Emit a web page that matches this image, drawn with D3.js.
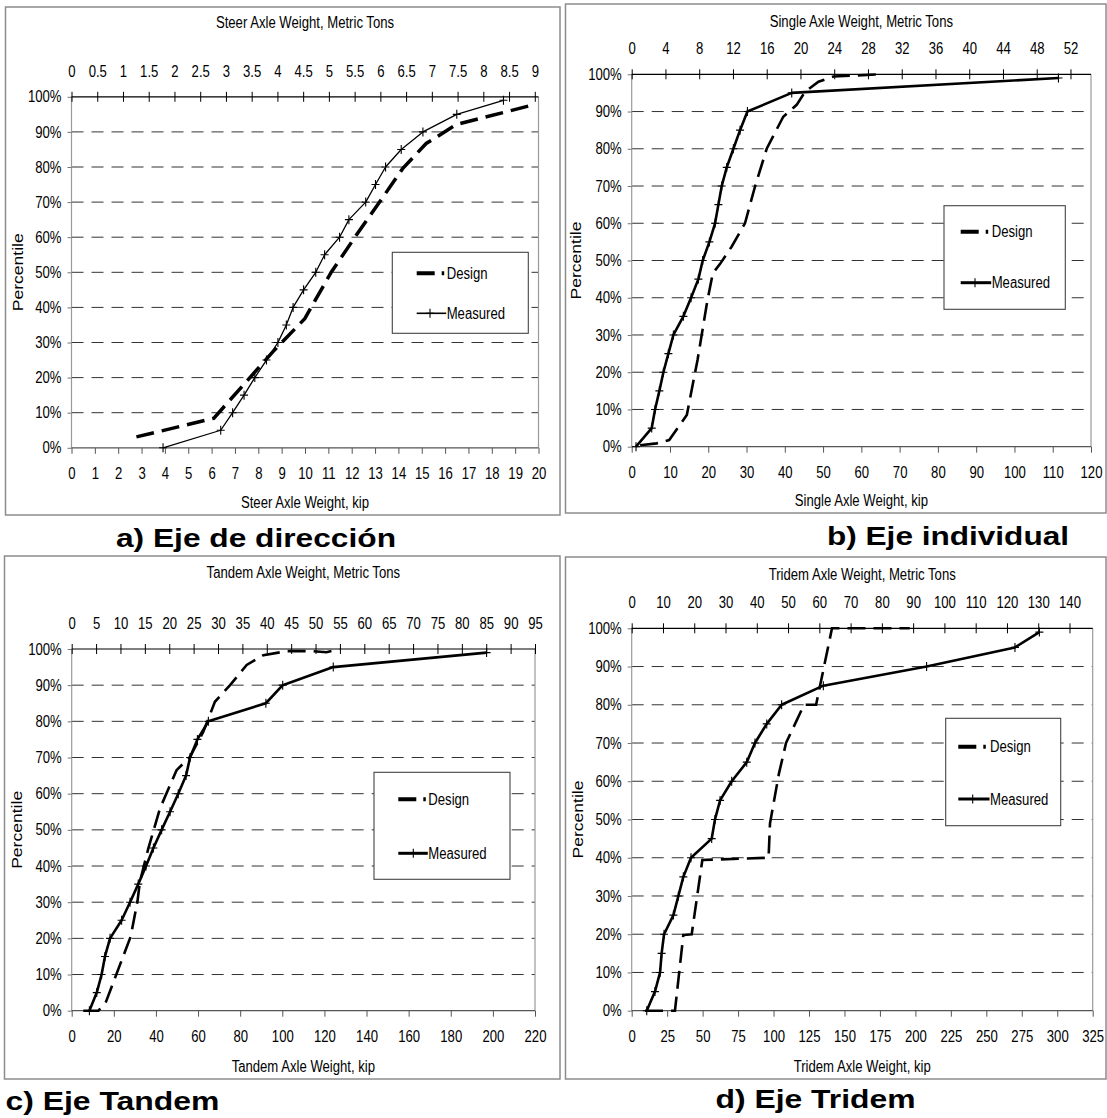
<!DOCTYPE html>
<html>
<head>
<meta charset="utf-8">
<script src="https://cdn.jsdelivr.net/npm/d3@7"></script>
<style>
  html, body { margin: 0; padding: 0; background: #fff; }
  svg { display: block; }
</style>
</head>
<body>
<svg id="chart" width="1107" height="1118"></svg>
<script>
// ---------------- DATA ----------------
const percentLabels = [0, 10, 20, 30, 40, 50, 60, 70, 80, 90, 100];

// a) Steer axle
const steerMeasuredKip = [3.92, 6.39, 6.9, 7.39, 7.85, 8.35, 8.84, 9.20, 9.49, 9.94, 10.46, 10.84, 11.48, 11.88, 12.60, 13.02, 13.45, 14.12, 15.05, 16.50, 18.50];
const steerMeasuredPct = [0, 5, 10, 15, 20, 25, 30, 35, 40, 45, 50, 55, 60, 65, 70, 75, 80, 85, 90, 95, 99];
const steerDesignKip = [2.78, 6.09, 8.63, 9.99, 11.13, 12.20, 13.20, 14.19, 15.19, 16.48, 19.83];
const steerDesignPct = [3.1, 8.4, 27.4, 36.8, 50.1, 60.6, 70.1, 79.6, 86.7, 92.1, 97.8];

// b) Single axle
const singleMeasuredKip = [1.13, 5.23, 6.10, 7.23, 8.28, 9.58, 10.89, 13.50, 15.51, 17.42, 18.55, 20.30, 21.78, 22.65, 23.52, 24.83, 26.57, 28.31, 30.23, 41.81, 111.5];
const singleMeasuredPct = [0, 5, 10, 15, 20, 25, 30, 35, 40, 45, 50, 55, 60, 65, 70, 75, 80, 85, 90, 95, 99];
const singleDesignKip = [2.2, 6.5, 9.8, 14.4, 17.2, 19.8, 21.2, 23.1, 26.1, 29.6, 32.2, 35.3, 39.6, 43.1, 45.3, 48.8, 52.7, 64.9];
const singleDesignPct = [0.4, 0.9, 1.8, 8.5, 23.3, 39.4, 46.6, 49.1, 53.7, 60.0, 69.8, 80.1, 88.6, 91.8, 95.3, 98.0, 99.4, 100];

// c) Tandem axle
const tandemMeasuredKip = [8.4, 11.9, 14.2, 15.8, 18.2, 23.7, 27.7, 31.6, 35.3, 38.8, 42.7, 46.7, 50.6, 54.3, 56.2, 59.7, 64.9, 92.2, 100.2, 124.2, 197];
const tandemMeasuredPct = [0, 5, 10, 15, 20, 25, 30, 35, 40, 45, 50, 55, 60, 65, 70, 75, 80, 85, 90, 95, 99];
const tandemDesignKip = [5.5, 12.7, 16.3, 28.0, 31.2, 32.4, 36.4, 41.9, 49.8, 56.2, 62.5, 68.0, 75.2, 83.1, 91.0, 102.1, 114.7, 121.0, 127.1];
const tandemDesignPct = [0, 0, 2.5, 20.5, 30.1, 35.7, 44.9, 55.9, 66.5, 70.2, 77.1, 85.4, 90.0, 95.6, 98.3, 99.4, 99.4, 99.1, 100];

// d) Tridem axle
const tridemMeasuredKip = [10.6, 16.4, 20.0, 21.1, 22.8, 29.4, 32.9, 36.4, 41.8, 56.4, 58.7, 62.3, 70.5, 81.1, 86.9, 95.2, 105.7, 135.1, 207.9, 270.2, 287.4];
const tridemMeasuredPct = [0, 5, 10, 15, 20, 25, 30, 35, 40, 45, 50, 55, 60, 65, 70, 75, 80, 85, 90, 95, 99];
const tridemDesignKip = [9.4, 30.5, 36.4, 42.3, 49.8, 96.5, 97.5, 103.8, 108.8, 121.5, 130.0, 141.2, 196.0];
const tridemDesignPct = [0, 0, 19.8, 20, 39.4, 40, 49, 62, 70, 80, 80, 100, 100];

// tick labels
const steerKipTicks = d3.range(0, 20.01, 1);
const steerTonTicks = d3.range(0, 9.01, 0.5);
const singleKipTicks = d3.range(0, 120.01, 10);
const singleTonTicks = d3.range(0, 52.01, 4);
const tandemKipTicks = d3.range(0, 220.01, 20);
const tandemTonTicks = d3.range(0, 95.01, 5);
const tridemKipTicks = d3.range(0, 325.01, 25);
const tridemTonTicks = d3.range(0, 140.01, 10);

const legendLabels = ["Design", "Measured"];
const KIP_PER_TON = 2.2046;

// ---------------- LAYOUT ----------------
const panels = [
  { title: "Steer Axle Weight, Metric Tons", xTitle: "Steer Axle Weight, kip", caption: "a) Eje de dirección",
    mk: steerMeasuredKip, mp: steerMeasuredPct, dk: steerDesignKip, dp: steerDesignPct,
    kipTicks: steerKipTicks, tonTicks: steerTonTicks, kipMax: 20, tonMax: 20 / KIP_PER_TON,
    box: [5.5, 7, 554.5, 508], x0: 71.5, x1: 538.5, yTop: 96.8, yBot: 447.8,
    titleY: 27.5, xTitleY: 507.8, pctX: 18,
    leg: { x: 392.3, y: 252.3, w: 136, h: 81, dY: 273.3, mY: 313.3, lx: 416.7, tx: 446.7, mx: 430 },
    cap: { x: 116, y: 546.6, len: 280 }, dW: 3.5, mW: 1.3, legMW: 1.6 },
  { title: "Single Axle Weight, Metric Tons", xTitle: "Single Axle Weight, kip", caption: "b) Eje individual",
    mk: singleMeasuredKip, mp: singleMeasuredPct, dk: singleDesignKip, dp: singleDesignPct,
    kipTicks: singleKipTicks, tonTicks: singleTonTicks, kipMax: 120, tonMax: 120 / KIP_PER_TON,
    box: [565.5, 4, 540.5, 509], x0: 631.7, x1: 1091, yTop: 74.3, yBot: 446.7,
    titleY: 26.5, xTitleY: 505.8, pctX: 576,
    leg: { x: 944, y: 205.7, w: 121.3, h: 103.6, dY: 231.7, mY: 282.7, lx: 960.7, tx: 991.7, mx: 975 },
    cap: { x: 827, y: 545, len: 242 }, dW: 2.6, mW: 2.6, legMW: 3 },
  { title: "Tandem Axle Weight, Metric Tons", xTitle: "Tandem Axle Weight, kip", caption: "c) Eje Tandem",
    mk: tandemMeasuredKip, mp: tandemMeasuredPct, dk: tandemDesignKip, dp: tandemDesignPct,
    kipTicks: tandemKipTicks, tonTicks: tandemTonTicks, kipMax: 220, tonMax: 95,
    box: [4.5, 556, 555.5, 523], x0: 71.7, x1: 535, yTop: 649, yBot: 1010.7,
    titleY: 578, xTitleY: 1071.8, pctX: 17,
    leg: { x: 374, y: 772.3, w: 136, h: 107, dY: 799.3, mY: 853.3, lx: 398.3, tx: 428.3, mx: 413.3 },
    cap: { x: 5.4, y: 1110, len: 214 }, dW: 2.6, mW: 2.6, legMW: 3 },
  { title: "Tridem Axle Weight, Metric Tons", xTitle: "Tridem Axle Weight, kip", caption: "d) Eje Tridem",
    mk: tridemMeasuredKip, mp: tridemMeasuredPct, dk: tridemDesignKip, dp: tridemDesignPct,
    kipTicks: tridemKipTicks, tonTicks: tridemTonTicks, kipMax: 325, tonMax: 325 / KIP_PER_TON,
    box: [565.5, 557, 540.5, 522], x0: 631.7, x1: 1092.7, yTop: 628.3, yBot: 1010.7,
    titleY: 579.5, xTitleY: 1071.8, pctX: 578,
    leg: { x: 945.7, y: 718.3, w: 115, h: 107.4, dY: 746.7, mY: 799, lx: 958.3, tx: 990, mx: 972.7 },
    cap: { x: 715.5, y: 1108, len: 200 }, dW: 2.6, mW: 2.6, legMW: 3 }
];

const FONT = "'Liberation Sans', Arial, sans-serif";
const svg = d3.select("#chart");

function narrow(sel, factor = 0.82) {
  sel.each(function () {
    const w = this.getComputedTextLength();
    if (w > 0) {
      this.setAttribute("textLength", (w * factor).toFixed(2));
      this.setAttribute("lengthAdjust", "spacingAndGlyphs");
    }
  });
}

const plus = "M-4,0H4M0,-4.5V4.5";

panels.forEach(p => {
  const g = svg.append("g");
  const [bx, by, bw, bh] = p.box;
  g.append("rect").attr("x", bx).attr("y", by).attr("width", bw).attr("height", bh)
    .attr("fill", "#fff").attr("stroke", "#8c8c8c").attr("stroke-width", 1.5);

  const x = d3.scaleLinear().domain([0, p.kipMax]).range([p.x0, p.x1]);
  const xt = d3.scaleLinear().domain([0, p.tonMax]).range([p.x0, p.x1]);
  const y = d3.scaleLinear().domain([0, 100]).range([p.yBot, p.yTop]);

  // gridlines
  g.append("g").selectAll("line").data(percentLabels.filter(v => v > 0 && v < 100)).join("line")
    .attr("x1", p.x0).attr("x2", p.x1).attr("y1", d => y(d)).attr("y2", d => y(d))
    .attr("stroke", "#333").attr("stroke-width", 1).attr("stroke-dasharray", "12,8");

  // side frame
  g.append("line").attr("x1", p.x0).attr("x2", p.x0).attr("y1", p.yTop).attr("y2", p.yBot)
    .attr("stroke", "#999").attr("stroke-width", 1.2);
  g.append("line").attr("x1", p.x1).attr("x2", p.x1).attr("y1", p.yTop).attr("y2", p.yBot)
    .attr("stroke", "#999").attr("stroke-width", 1.2);

  // y axis labels
  const ya = g.append("g").attr("transform", `translate(${p.x0},0)`)
    .call(d3.axisLeft(y).tickValues(percentLabels).tickFormat(d => d + "%").tickSize(4).tickPadding(6));
  ya.select(".domain").remove();
  ya.selectAll("line").attr("stroke", "#777");
  ya.selectAll("text").attr("font-family", FONT).attr("font-size", 16).attr("fill", "#000").call(narrow);

  // bottom axis (kip)
  const xa = g.append("g").attr("transform", `translate(0,${p.yBot})`)
    .call(d3.axisBottom(x).tickValues(p.kipTicks).tickFormat(d => String(d)).tickSize(6).tickSizeOuter(0).tickPadding(14));
  xa.select(".domain").remove();
  xa.selectAll("line").attr("stroke", "#555");
  xa.selectAll("text").attr("font-family", FONT).attr("font-size", 16).attr("fill", "#000").call(narrow);
  g.append("line").attr("x1", p.x0).attr("x2", p.x1).attr("y1", p.yBot).attr("y2", p.yBot)
    .attr("stroke", "#555").attr("stroke-width", 1.2);

  // top axis (metric tons)
  const ta = g.append("g").attr("transform", `translate(0,${p.yTop})`)
    .call(d3.axisTop(xt).tickValues(p.tonTicks).tickFormat(d => String(d)).tickSize(5).tickSizeOuter(0).tickPadding(15));
  ta.select(".domain").remove();
  ta.selectAll("line").attr("y1", 5).attr("y2", -5).attr("stroke", "#000");
  ta.selectAll("text").attr("font-family", FONT).attr("font-size", 16).attr("fill", "#000").call(narrow);
  g.append("line").attr("x1", p.x0).attr("x2", p.x1).attr("y1", p.yTop).attr("y2", p.yTop)
    .attr("stroke", "#000").attr("stroke-width", 1.2);

  // titles
  g.append("text").attr("x", (p.x0 + p.x1) / 2).attr("y", p.titleY).attr("text-anchor", "middle")
    .attr("font-family", FONT).attr("font-size", 16).text(p.title).call(narrow);
  g.append("text").attr("x", (p.x0 + p.x1) / 2).attr("y", p.xTitleY).attr("text-anchor", "middle")
    .attr("font-family", FONT).attr("font-size", 16).text(p.xTitle).call(narrow);
  g.append("text").attr("transform", `translate(${p.pctX + 5},${(p.yTop + p.yBot) / 2}) rotate(-90)`)
    .attr("text-anchor", "middle").attr("font-family", FONT).attr("font-size", 14.5)
    .attr("textLength", 78).attr("lengthAdjust", "spacingAndGlyphs").text("Percentile");

  // series
  const line = d3.line().x(d => x(d[0])).y(d => y(d[1]));
  const design = p.dk.map((k, i) => [k, p.dp[i]]);
  const measured = p.mk.map((k, i) => [k, p.mp[i]]);

  g.append("path").datum(design).attr("d", line).attr("fill", "none").attr("stroke", "#000")
    .attr("stroke-width", p.dW).attr("stroke-dasharray", "18,8");
  g.append("path").datum(measured).attr("d", line).attr("fill", "none").attr("stroke", "#000")
    .attr("stroke-width", p.mW).attr("stroke-linejoin", "round");
  g.append("g").selectAll("path").data(measured).join("path")
    .attr("transform", d => `translate(${x(d[0])},${y(d[1])})`).attr("d", plus)
    .attr("stroke", "#000").attr("stroke-width", 1.1).attr("fill", "none");

  // legend
  const L = p.leg;
  const lg = g.append("g");
  lg.append("rect").attr("x", L.x).attr("y", L.y).attr("width", L.w).attr("height", L.h)
    .attr("fill", "#fff").attr("stroke", "#444").attr("stroke-width", 1.1);
  lg.append("line").attr("x1", L.lx).attr("x2", L.lx + 27.5).attr("y1", L.dY).attr("y2", L.dY)
    .attr("stroke", "#000").attr("stroke-width", 4).attr("stroke-dasharray", "18,7");
  lg.append("line").attr("x1", L.lx).attr("x2", L.tx - 0.5).attr("y1", L.mY).attr("y2", L.mY)
    .attr("stroke", "#000").attr("stroke-width", p.legMW);
  lg.append("path").attr("transform", `translate(${L.mx},${L.mY})`).attr("d", plus)
    .attr("stroke", "#000").attr("stroke-width", 1.1);
  lg.append("text").attr("x", L.tx).attr("y", L.dY + 5.6).attr("font-family", FONT).attr("font-size", 16)
    .text(legendLabels[0]).call(narrow);
  lg.append("text").attr("x", L.tx).attr("y", L.mY + 5.6).attr("font-family", FONT).attr("font-size", 16)
    .text(legendLabels[1]).call(narrow);

  // caption
  svg.append("text").attr("x", p.cap.x).attr("y", p.cap.y).attr("font-family", FONT)
    .attr("font-weight", "bold").attr("font-size", 25.5)
    .attr("textLength", p.cap.len).attr("lengthAdjust", "spacingAndGlyphs").text(p.caption);
});
</script>
</body>
</html>
